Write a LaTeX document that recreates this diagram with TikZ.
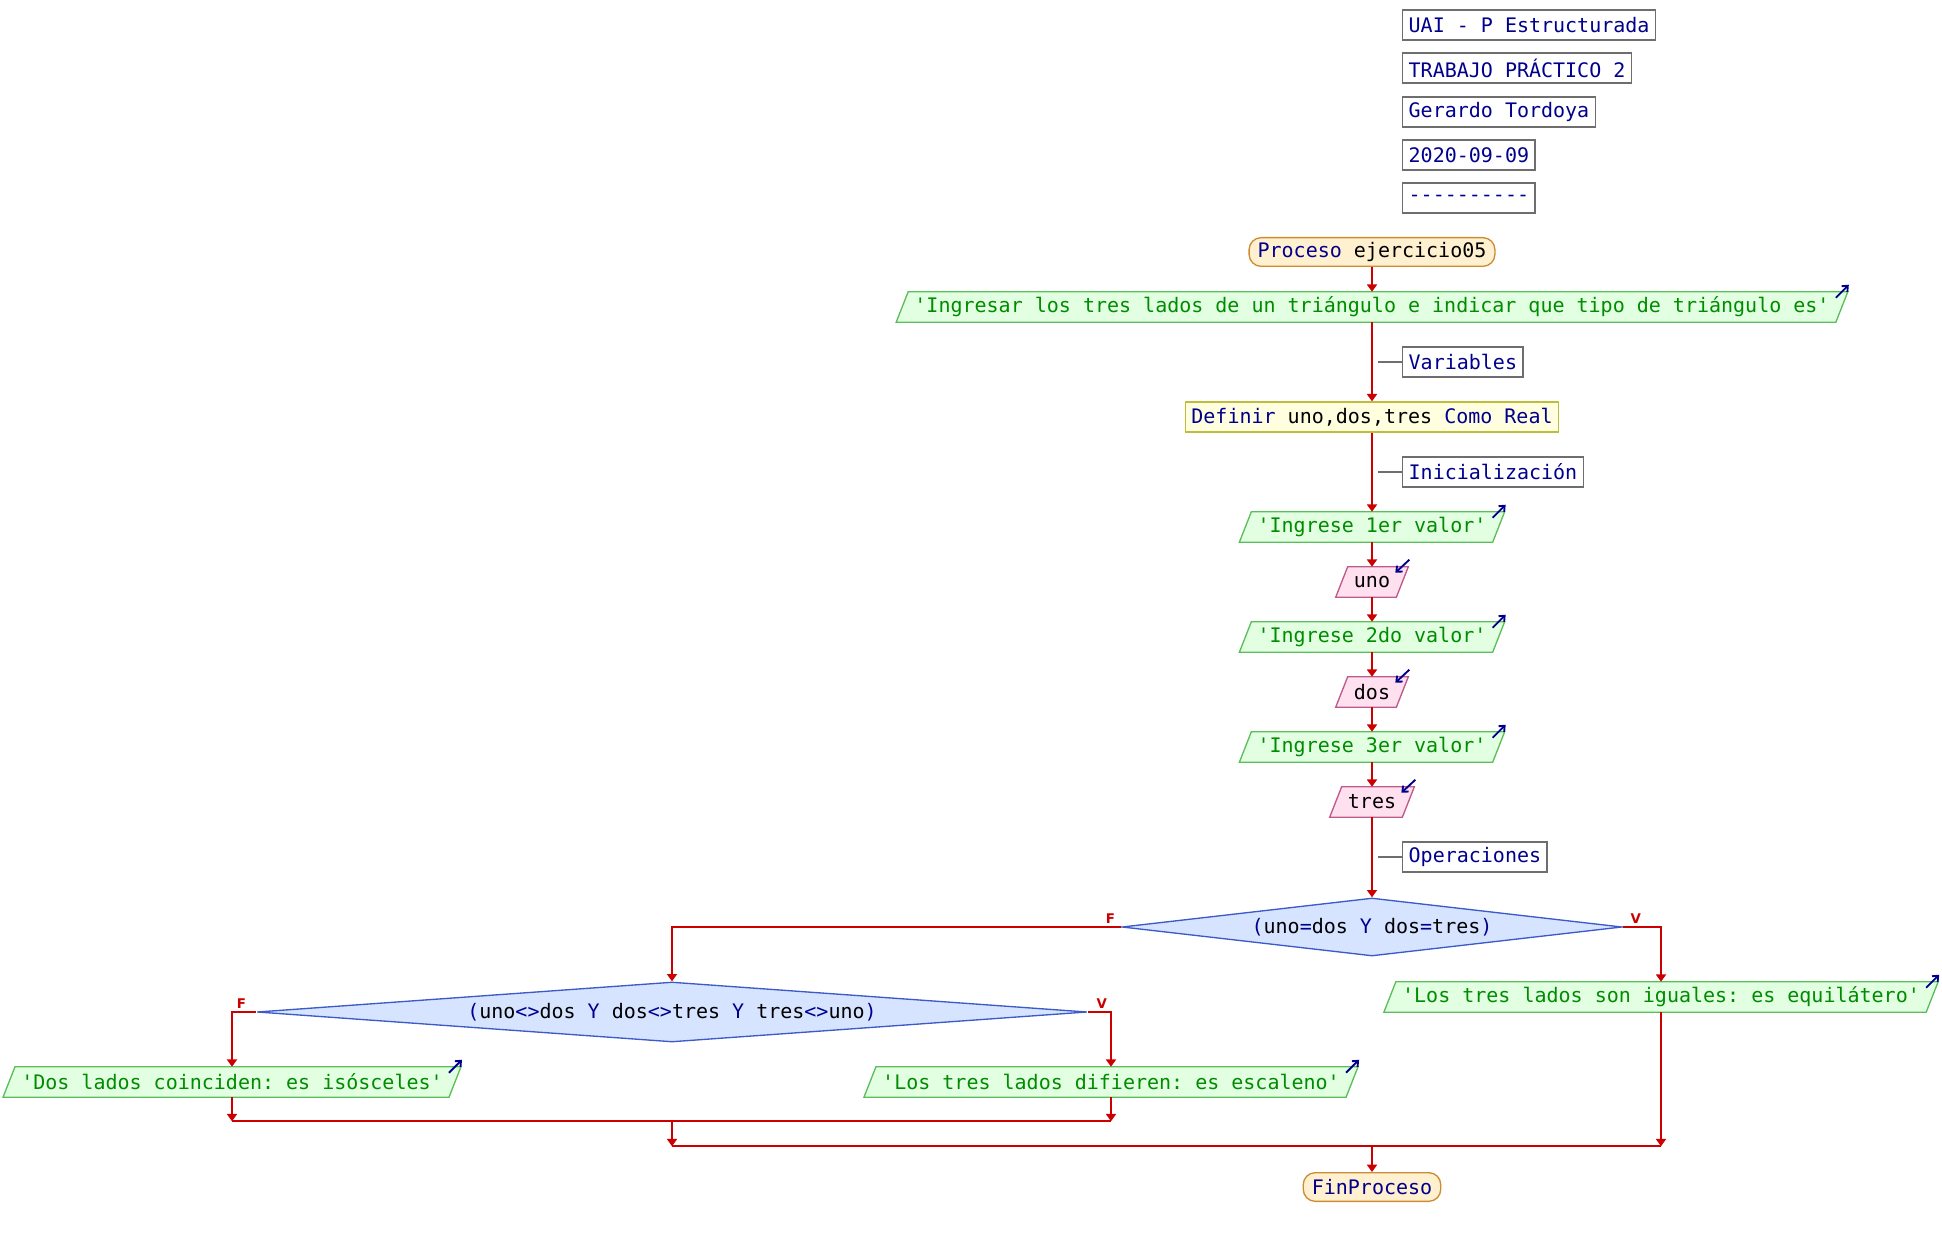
\documentclass[tikz,border=0pt]{standalone}
\usepackage{fontspec}
\setmonofont{DejaVu Sans Mono}
\setsansfont{DejaVu Sans}
\usetikzlibrary{arrows.meta,calc,shapes.geometric,backgrounds}
\definecolor{navy}{RGB}{0,0,140}
\definecolor{fred}{RGB}{204,0,0}
\definecolor{grn}{RGB}{0,140,0}
\definecolor{gfill}{RGB}{226,255,226}
\definecolor{gborder}{RGB}{90,190,90}
\definecolor{pfill}{RGB}{255,224,238}
\definecolor{pborder}{RGB}{190,90,140}
\definecolor{tfill}{RGB}{255,240,208}
\definecolor{tborder}{RGB}{205,140,50}
\definecolor{yfill}{RGB}{255,255,224}
\definecolor{yborder}{RGB}{190,190,60}
\definecolor{dfill}{RGB}{214,228,255}
\definecolor{dborder}{RGB}{60,90,200}
\definecolor{cgray}{RGB}{110,110,110}
\newcommand\outpara[1]{\draw[line width=1pt,draw=gborder,fill=gfill]
  ($(#1.south west)+(-6,0)$) -- ($(#1.south east)+(-6,0)$) --
  ($(#1.north east)+(6,0)$) -- ($(#1.north west)+(6,0)$) -- cycle;}
\newcommand\inpara[1]{\draw[line width=1pt,draw=pborder,fill=pfill]
  ($(#1.south west)+(-6,0)$) -- ($(#1.south east)+(-6,0)$) --
  ($(#1.north east)+(6,0)$) -- ($(#1.north west)+(6,0)$) -- cycle;}
\newcommand\outicon[1]{\draw[navy,line width=1.4pt,-{Straight Barb[length=3.5pt,width=6pt]}]
  ($(#1.north east)+(-6,6)$) -- ($(#1.north east)+(7,-7)$);}
\newcommand\inicon[1]{\draw[navy,line width=1.4pt,-{Straight Barb[length=3.5pt,width=6pt]}]
  ($(#1.north east)+(7,-7)$) -- ($(#1.north east)+(-7,6)$);}
\newcommand\nv[1]{\textcolor{navy}{#1}}
\begin{document}
\begin{tikzpicture}[x=0.75pt,y=-0.75pt,
  every node/.style={font=\ttfamily\fontsize{15}{18}\selectfont},
  comment/.style={draw=cgray,line width=1pt,fill=white,text=navy,anchor=west,
    inner xsep=4.5pt,inner ysep=0pt,minimum height=22.5pt},
  term/.style={draw=tborder,fill=tfill,line width=1pt,rounded corners=9pt,
    inner xsep=6.4pt,inner ysep=0pt,minimum height=21.5pt},
  procbox/.style={draw=yborder,fill=yfill,line width=1pt,inner xsep=4.5pt,
    inner ysep=0pt,minimum height=22.5pt},
  outbody/.style={inner xsep=9pt,inner ysep=0pt,minimum height=22.5pt,text=grn},
  inbody/.style={inner xsep=9pt,inner ysep=0pt,minimum height=22.5pt,text=black},
  cond/.style={diamond,draw=dborder,fill=dfill,line width=1pt,inner sep=0pt},
  flow/.style={draw=fred,line width=1.5pt,-{Triangle[width=7.5pt,length=5.5pt]}},
  wire/.style={draw=fred,line width=1.5pt},
  cline/.style={draw=cgray,line width=1.2pt},
  lbl/.style={text=fred,font=\sffamily\bfseries\fontsize{10}{11}\selectfont,inner sep=1pt}]
\useasboundingbox (0,0) rectangle (1942,1237);

% header
\node[comment] (h1) at (1402,25) {UAI - P Estructurada};
\node[comment] (h2) at (1402,68) {TRABAJO PRÁCTICO 2};
\node[comment] (h3) at (1402,112) {Gerardo Tordoya};
\node[comment] (h4) at (1402,155) {2020-09-09};
\node[comment] (h5) at (1402,198) {----------};

% main column
\node[term] (start) at (1372,252) {\nv{Proceso} ejercicio05};
\node[outbody] (o0) at (1372,307) {'Ingresar los tres lados de un triángulo e indicar que tipo de triángulo es'};
\node[comment] (cvar) at (1402,362) {Variables};
\node[procbox] (def) at (1372,417) {\nv{Definir} uno,dos,tres \nv{Como Real}};
\node[comment] (cini) at (1402,472) {Inicialización};
\node[outbody] (o1) at (1372,527) {'Ingrese 1er valor'};
\node[inbody] (i1) at (1372,582) {uno};
\node[outbody] (o2) at (1372,637) {'Ingrese 2do valor'};
\node[inbody] (i2) at (1372,692) {dos};
\node[outbody] (o3) at (1372,747) {'Ingrese 3er valor'};
\node[inbody] (i3) at (1372,802) {tres};
\node[comment] (cops) at (1402,857) {Operaciones};
\node[cond,minimum width=375pt,minimum height=43.5pt,shape aspect=8.6] (d1) at (1372,927)
  {\nv{(}uno\nv{=}dos \nv{Y} dos\nv{=}tres\nv{)}};
\node[cond,minimum width=622.5pt,minimum height=45pt,shape aspect=13.8] (d2) at (672,1012)
  {\nv{(}uno\nv{<>}dos \nv{Y} dos\nv{<>}tres \nv{Y} tres\nv{<>}uno\nv{)}};
\node[outbody] (oeq) at (1661,997) {'Los tres lados son iguales: es equilátero'};
\node[outbody] (oiso) at (232,1082) {'Dos lados coinciden: es isósceles'};
\node[outbody] (oesc) at (1111,1082) {'Los tres lados difieren: es escaleno'};
\node[term] (endn) at (1372,1187) {\nv{FinProceso}};

\begin{scope}[on background layer]
  \outpara{o0} \outpara{o1} \outpara{o2} \outpara{o3}
  \outpara{oeq} \outpara{oiso} \outpara{oesc}
  \inpara{i1} \inpara{i2} \inpara{i3}
\end{scope}
\outicon{o0} \outicon{o1} \outicon{o2} \outicon{o3}
\outicon{oeq} \outicon{oiso} \outicon{oesc}
\inicon{i1} \inicon{i2} \inicon{i3}

% comment ties
\draw[cline] (cvar.west) -- ++(-24,0);
\draw[cline] (cini.west) -- ++(-24,0);
\draw[cline] (cops.west) -- ++(-24,0);

% main flow
\draw[flow] (start.south) -- (o0.north);
\draw[flow] (o0.south) -- (def.north);
\draw[flow] (def.south) -- (o1.north);
\draw[flow] (o1.south) -- (i1.north);
\draw[flow] (i1.south) -- (o2.north);
\draw[flow] (o2.south) -- (i2.north);
\draw[flow] (i2.south) -- (o3.north);
\draw[flow] (o3.south) -- (i3.north);
\draw[flow] (i3.south) -- (d1.north);

% branches
\draw[flow] (d1.west) -| (d2.north);
\draw[flow] (d1.east) -| (oeq.north);
\draw[flow] (d2.west) -| (oiso.north);
\draw[flow] (d2.east) -| (oesc.north);
\node[lbl,anchor=south] (f1) at ($(d1.west)+(-11,-2)$) {F};
\node[lbl,anchor=south] (v1) at ($(d1.east)+(13,-2)$) {V};
\node[lbl,anchor=south] (f2) at ($(d2.west)+(-15,-2)$) {F};
\node[lbl,anchor=south] (v2) at ($(d2.east)+(14,-2)$) {V};

% joins
\coordinate (j1a) at ($(oiso.south)+(0,24)$);
\coordinate (j1b) at ($(oesc.south)+(0,24)$);
\draw[flow] (oiso.south) -- (j1a);
\draw[flow] (oesc.south) -- (j1b);
\draw[wire] (j1a) -- (j1b);
\coordinate (j1m) at (d2.north |- j1a);
\coordinate (j2m) at ($(j1m)+(0,25)$);
\coordinate (j2r) at (oeq.south |- j2m);
\draw[flow] (j1m) -- (j2m);
\draw[flow] (oeq.south) -- (j2r);
\draw[wire] (j2m) -- (j2r);
\coordinate (j2c) at (endn.north |- j2m);
\draw[flow] (j2c) -- (endn.north);
\end{tikzpicture}
\end{document}
